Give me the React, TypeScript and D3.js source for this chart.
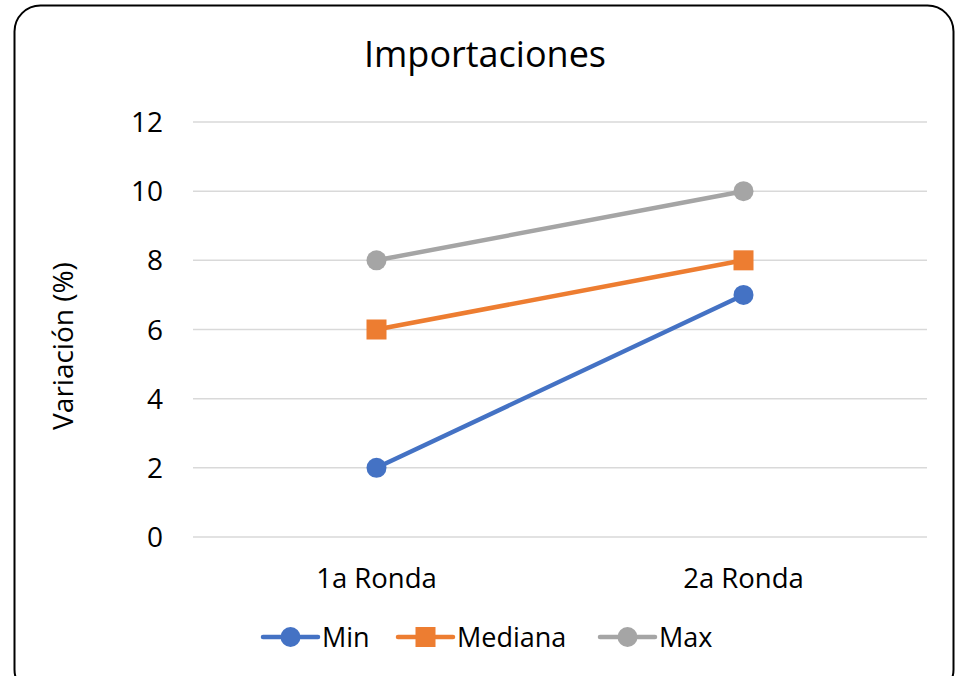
import React from "react";
import * as d3 from "d3";

const categories = ["1a Ronda", "2a Ronda"];
const minValues = [2, 7];
const medianaValues = [6, 8];
const maxValues = [8, 10];
const yTicks = [0, 2, 4, 6, 8, 10, 12];
const seriesNames = ["Min", "Mediana", "Max"];

const W = 957;
const H = 676;
const FONT = "'Open Sans', 'Liberation Sans', sans-serif";

export default function App() {
  const x = d3.scaleBand().domain(categories).range([193, 927]);
  const y = d3.scaleLinear().domain([0, 12]).range([537, 122]);
  const colors = ["#4472C4", "#ED7D31", "#A5A5A5"];
  const shapes = ["circle", "square", "circle"];
  const data = [minValues, medianaValues, maxValues];
  const line = d3
    .line<number>()
    .x((_, i) => (x(categories[i]) as number) + x.bandwidth() / 2)
    .y((d) => y(d));

  const marker = (shape: string, cx: number, cy: number, color: string, key: string) =>
    shape === "circle" ? (
      <circle key={key} cx={cx} cy={cy} r={10} fill={color} />
    ) : (
      <rect key={key} x={cx - 10} y={cy - 10} width={20} height={20} fill={color} />
    );

  const legendX = [263, 398, 600];

  return (
    <div style={{ position: "absolute", left: 0, top: 0 }}>
      <svg width={W} height={H} style={{ display: "block" }}>
        <rect x={0} y={0} width={W} height={H} fill="#fff" />
        <rect x={14.5} y={5.5} width={939} height={690} rx={26} ry={26} fill="#fff" stroke="#000" strokeWidth={2} />
        <text x={485} y={67} textAnchor="middle" fontFamily={FONT} fontSize={36} fill="#000">
          Importaciones
        </text>
        {yTicks.map((t) => (
          <g key={t}>
            <line x1={193} x2={927} y1={y(t)} y2={y(t)} stroke="#D9D9D9" strokeWidth={1.5} />
            <text x={163} y={y(t)} dy="0.36em" textAnchor="end" fontFamily={FONT} fontSize={28} fill="#000">
              {t}
            </text>
          </g>
        ))}
        {categories.map((c) => (
          <text
            key={c}
            x={(x(c) as number) + x.bandwidth() / 2}
            y={588}
            textAnchor="middle"
            fontFamily={FONT}
            fontSize={27.5}
            fill="#000"
          >
            {c}
          </text>
        ))}
        <text
          transform="translate(73,346) rotate(-90)"
          textAnchor="middle"
          fontFamily={FONT}
          fontSize={28}
          fill="#000"
        >
          Variación (%)
        </text>
        {data.map((vals, si) => (
          <g key={si}>
            <path d={line(vals) || ""} fill="none" stroke={colors[si]} strokeWidth={4.5} strokeLinecap="round" />
            {vals.map((v, i) =>
              marker(shapes[si], (x(categories[i]) as number) + x.bandwidth() / 2, y(v), colors[si], `${si}-${i}`)
            )}
          </g>
        ))}
        {seriesNames.map((n, si) => (
          <g key={n}>
            <line
              x1={legendX[si]}
              x2={legendX[si] + 55}
              y1={637}
              y2={637}
              stroke={colors[si]}
              strokeWidth={4.5}
              strokeLinecap="round"
            />
            {marker(shapes[si], legendX[si] + 27.5, 637, colors[si], n + "m")}
            <text x={legendX[si] + 59} y={637} dy="0.36em" fontFamily={FONT} fontSize={27} fill="#000">
              {n}
            </text>
          </g>
        ))}
      </svg>
    </div>
  );
}
